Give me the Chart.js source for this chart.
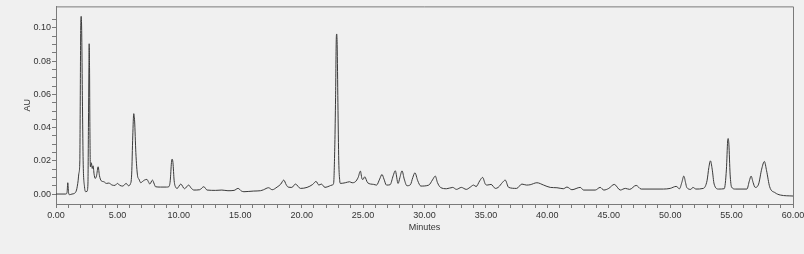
<!DOCTYPE html>
<html>
<head>
<meta charset="utf-8">
<script src="https://cdn.jsdelivr.net/npm/chart.js@4/dist/chart.umd.min.js"></script>
<style>
  html, body { margin: 0; padding: 0; background: #f0f0f0; }
  canvas { display: block; }
</style>
</head>
<body>
<canvas id="chrom" width="804" height="254"></canvas>
<script>
// ========== data ==========
const minutes = [
  0.00, 0.80, 0.90, 0.96, 1.02, 1.10, 1.30, 1.50, 1.67, 1.80,
  1.86, 1.94, 1.97, 2.01, 2.05, 2.09, 2.16, 2.21, 2.32, 2.43,
  2.52, 2.60, 2.64, 2.68, 2.70, 2.73, 2.76, 2.80, 2.88, 2.95,
  3.02, 3.10, 3.19, 3.30, 3.43, 3.54, 3.68, 3.90, 4.10, 4.30,
  4.57, 4.80, 5.00, 5.20, 5.44, 5.71, 5.90, 6.05, 6.16, 6.25,
  6.33, 6.40, 6.50, 6.64, 6.75, 6.90, 7.05, 7.20, 7.40, 7.55,
  7.64, 7.85, 8.00, 8.10, 8.50, 9.00, 9.18, 9.30, 9.40, 9.45,
  9.52, 9.62, 9.75, 9.86, 10.16, 10.46, 10.80, 11.00, 11.23, 11.70,
  12.03, 12.30, 13.00, 13.50, 14.00, 14.50, 14.82, 15.10, 15.30, 16.10,
  16.64, 16.90, 17.30, 17.60, 18.00, 18.30, 18.54, 18.75, 18.90, 19.20,
  19.49, 19.90, 20.44, 20.90, 21.17, 21.40, 21.60, 21.90, 22.25, 22.47,
  22.60, 22.70, 22.76, 22.82, 22.85, 22.89, 22.95, 23.02, 23.10, 23.15,
  23.55, 23.90, 24.10, 24.37, 24.60, 24.78, 24.92, 25.00, 25.13, 25.37,
  25.86, 26.10, 26.35, 26.54, 26.70, 26.90, 27.20, 27.45, 27.62, 27.85,
  28.00, 28.17, 28.35, 28.57, 28.85, 29.05, 29.22, 29.45, 29.70, 30.35,
  30.65, 30.88, 31.05, 31.30, 31.80, 32.30, 32.60, 33.00, 33.40, 33.70,
  34.00, 34.20, 34.50, 34.73, 34.95, 35.10, 35.42, 35.77, 36.00, 36.35,
  36.57, 36.85, 37.50, 37.93, 38.30, 38.60, 39.15, 39.70, 40.24, 40.78,
  41.30, 41.60, 42.00, 42.68, 42.95, 43.90, 44.30, 44.60, 45.00, 45.45,
  45.94, 46.35, 46.70, 47.23, 47.64, 49.45, 50.00, 50.49, 50.76, 50.95,
  51.11, 51.25, 51.35, 51.68, 51.85, 52.10, 52.70, 53.00, 53.15, 53.28,
  53.42, 53.58, 53.93, 54.40, 54.58, 54.68, 54.72, 54.78, 54.88, 55.00,
  55.30, 56.25, 56.45, 56.59, 56.75, 56.92, 57.20, 57.45, 57.67, 57.85,
  58.10, 58.54, 58.97, 60.00
];
const au = [
  0.0000, 0.0000, 0.0010, 0.0068, 0.0010, -0.0004, 0.0000, 0.0004, 0.0024, 0.0080,
  0.0124, 0.0200, 0.0500, 0.0985, 0.1070, 0.0985, 0.0500, 0.0200, 0.0044, 0.0014,
  0.0016, 0.0060, 0.0400, 0.0760, 0.0905, 0.0760, 0.0400, 0.0164, 0.0188, 0.0154,
  0.0170, 0.0120, 0.0094, 0.0110, 0.0164, 0.0110, 0.0080, 0.0074, 0.0064, 0.0066,
  0.0054, 0.0052, 0.0064, 0.0052, 0.0048, 0.0064, 0.0050, 0.0060, 0.0120, 0.0350,
  0.0484, 0.0440, 0.0250, 0.0110, 0.0090, 0.0068, 0.0076, 0.0084, 0.0088, 0.0070,
  0.0060, 0.0084, 0.0060, 0.0044, 0.0042, 0.0042, 0.0044, 0.0080, 0.0190, 0.0210,
  0.0190, 0.0080, 0.0040, 0.0034, 0.0060, 0.0032, 0.0054, 0.0036, 0.0024, 0.0026,
  0.0044, 0.0024, 0.0022, 0.0024, 0.0020, 0.0022, 0.0034, 0.0018, 0.0014, 0.0018,
  0.0020, 0.0026, 0.0038, 0.0026, 0.0042, 0.0060, 0.0084, 0.0055, 0.0042, 0.0040,
  0.0060, 0.0034, 0.0040, 0.0058, 0.0076, 0.0054, 0.0060, 0.0040, 0.0048, 0.0054,
  0.0064, 0.0300, 0.0580, 0.0940, 0.0964, 0.0900, 0.0550, 0.0200, 0.0080, 0.0064,
  0.0068, 0.0074, 0.0068, 0.0074, 0.0100, 0.0138, 0.0090, 0.0088, 0.0104, 0.0068,
  0.0058, 0.0054, 0.0090, 0.0118, 0.0090, 0.0054, 0.0056, 0.0110, 0.0140, 0.0064,
  0.0100, 0.0140, 0.0090, 0.0050, 0.0056, 0.0100, 0.0128, 0.0080, 0.0048, 0.0054,
  0.0085, 0.0108, 0.0070, 0.0040, 0.0032, 0.0040, 0.0028, 0.0040, 0.0028, 0.0040,
  0.0054, 0.0045, 0.0080, 0.0100, 0.0060, 0.0054, 0.0058, 0.0034, 0.0040, 0.0070,
  0.0084, 0.0040, 0.0034, 0.0060, 0.0054, 0.0056, 0.0068, 0.0054, 0.0040, 0.0038,
  0.0032, 0.0042, 0.0026, 0.0040, 0.0024, 0.0024, 0.0040, 0.0024, 0.0034, 0.0058,
  0.0024, 0.0034, 0.0028, 0.0052, 0.0030, 0.0030, 0.0034, 0.0046, 0.0032, 0.0070,
  0.0108, 0.0070, 0.0040, 0.0028, 0.0040, 0.0030, 0.0034, 0.0080, 0.0160, 0.0200,
  0.0150, 0.0060, 0.0030, 0.0032, 0.0150, 0.0320, 0.0334, 0.0300, 0.0120, 0.0042,
  0.0030, 0.0030, 0.0080, 0.0108, 0.0070, 0.0040, 0.0060, 0.0150, 0.0196, 0.0140,
  0.0044, 0.0008, -0.0006, -0.0012
];

// axis range + tick steps
const X_MIN = 0, X_MAX = 60, X_MINOR = 1, X_MAJOR = 5;
const Y_MIN = -0.006, Y_MAX = 0.113, Y_MINOR = 0.005, Y_MAJOR = 0.02;

// ========== helpers ==========
const isMultiple = (v, step) => Math.abs(v / step - Math.round(v / step)) < 1e-6;
const FONT = { family: "'Liberation Sans', Arial, sans-serif", size: 9 };
const AXIS_COLOR = "#7a7a7a";

// box around the plot (top + right sides; left/bottom are the axis borders)
const framePlugin = {
  id: "frame",
  afterDraw(chart) {
    const { ctx, chartArea: a } = chart;
    ctx.save();
    ctx.strokeStyle = AXIS_COLOR;
    ctx.lineWidth = 1;
    ctx.beginPath();
    ctx.moveTo(a.left, a.top + 0.5);
    ctx.lineTo(a.right + 0.5, a.top + 0.5);
    ctx.lineTo(a.right + 0.5, a.bottom);
    ctx.stroke();
    ctx.restore();
  },
};

// ========== chart ==========
new Chart(document.getElementById("chrom"), {
  type: "line",
  data: {
    datasets: [{
      data: minutes.map((t, i) => ({ x: t, y: au[i] })),
      borderColor: "#3a3a3a",
      borderWidth: 1,
      pointRadius: 0,
      cubicInterpolationMode: "monotone",
      fill: false,
    }],
  },
  options: {
    responsive: false,
    animation: false,
    layout: { padding: { top: 6, right: 11, left: 0, bottom: 0 } },
    plugins: { legend: { display: false }, tooltip: { enabled: false } },
    scales: {
      x: {
        type: "linear",
        min: X_MIN,
        max: X_MAX,
        afterFit(s) { s.height = 50; s.paddingLeft = 0; s.paddingRight = 0; },
        border: { display: true, color: AXIS_COLOR, width: 1 },
        grid: { drawOnChartArea: false, drawTicks: true, tickLength: 4, color: AXIS_COLOR },
        ticks: {
          stepSize: X_MINOR,
          autoSkip: false,
          maxRotation: 0,
          padding: 2,
          color: "#333",
          font: FONT,
          callback: (v) => (isMultiple(v, X_MAJOR) ? v.toFixed(2) : ""),
        },
        title: { display: true, text: "Minutes", color: "#333", font: FONT, padding: { top: 0, bottom: 21 } },
      },
      y: {
        min: Y_MIN,
        max: Y_MAX,
        afterFit(s) { s.width = 56; },
        afterBuildTicks(s) { s.ticks = s.ticks.filter((t) => isMultiple(t.value, Y_MINOR)); },
        border: { display: true, color: AXIS_COLOR, width: 1 },
        grid: { drawOnChartArea: false, drawTicks: true, tickLength: 4, color: AXIS_COLOR },
        ticks: {
          stepSize: Y_MINOR,
          autoSkip: false,
          padding: 1,
          color: "#333",
          font: FONT,
          callback: (v) => (isMultiple(v, Y_MAJOR) ? v.toFixed(2) : ""),
        },
        title: { display: true, text: "AU", color: "#333", font: FONT, padding: { top: 22, bottom: 0 } },
      },
    },
  },
  plugins: [framePlugin],
});
</script>
</body>
</html>
